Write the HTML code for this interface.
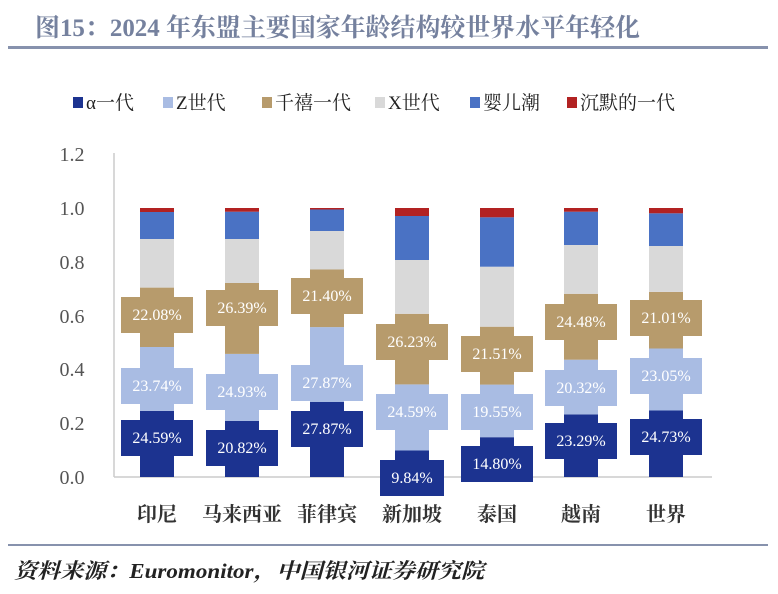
<!DOCTYPE html>
<html><head><meta charset="utf-8"><style>
html,body{margin:0;padding:0;background:#fff;width:778px;height:594px;overflow:hidden}
svg{display:block}
.s{font-family:"Liberation Serif","Noto Serif CJK SC",serif}
</style></head><body>
<svg width="778" height="594" viewBox="0 0 778 594" xmlns="http://www.w3.org/2000/svg" class="s">
<text x="35" y="36" font-size="25" font-weight="bold" fill="#75819e" textLength="605" lengthAdjust="spacingAndGlyphs">图15：2024 年东盟主要国家年龄结构较世界水平年轻化</text>
<rect x="8" y="46" width="760" height="3" fill="#8792ad"/>
<g font-size="19" fill="#222">
<rect x="73" y="97" width="10" height="11" fill="#1c3390"/><text x="86" y="109">α一代</text>
<rect x="163" y="97" width="10" height="11" fill="#a9bce3"/><text x="176" y="109">Z世代</text>
<rect x="262" y="97" width="10" height="11" fill="#b79b6c"/><text x="275" y="109">千禧一代</text>
<rect x="375" y="97" width="10" height="11" fill="#d9d9d9"/><text x="388" y="109">X世代</text>
<rect x="470" y="97" width="10" height="11" fill="#4a72c4"/><text x="483" y="109">婴儿潮</text>
<rect x="567" y="97" width="10" height="11" fill="#b22222"/><text x="580" y="109">沉默的一代</text>
</g>
<g font-size="20" fill="#555" text-anchor="middle">
<text x="72" y="161">1.2</text><text x="72" y="215">1.0</text><text x="72" y="269">0.8</text>
<text x="72" y="323">0.6</text><text x="72" y="376">0.4</text><text x="72" y="430">0.2</text><text x="72" y="484">0.0</text>
</g>
<line x1="114" y1="153" x2="114" y2="477" stroke="#ccc" stroke-width="1.5"/>
<line x1="114" y1="477" x2="712" y2="477" stroke="#ccc" stroke-width="1.5"/>
<g>
<rect x="140" y="410.9" width="34" height="66.1" fill="#1c3390"/><rect x="140" y="347" width="34" height="63.9" fill="#a9bce3"/><rect x="140" y="287.6" width="34" height="59.4" fill="#b79b6c"/><rect x="140" y="239" width="34" height="48.6" fill="#d9d9d9"/><rect x="140" y="212" width="34" height="27" fill="#4a72c4"/><rect x="140" y="208" width="34" height="4" fill="#b22222"/>
<rect x="225" y="421" width="34" height="56" fill="#1c3390"/><rect x="225" y="353.9" width="34" height="67.1" fill="#a9bce3"/><rect x="225" y="283" width="34" height="70.9" fill="#b79b6c"/><rect x="225" y="239" width="34" height="44" fill="#d9d9d9"/><rect x="225" y="211.7" width="34" height="27.3" fill="#4a72c4"/><rect x="225" y="208" width="34" height="3.7" fill="#b22222"/>
<rect x="310" y="402" width="34" height="75" fill="#1c3390"/><rect x="310" y="327.1" width="34" height="74.9" fill="#a9bce3"/><rect x="310" y="269.5" width="34" height="57.6" fill="#b79b6c"/><rect x="310" y="231" width="34" height="38.5" fill="#d9d9d9"/><rect x="310" y="209.5" width="34" height="21.5" fill="#4a72c4"/><rect x="310" y="208" width="34" height="1.5" fill="#b22222"/>
<rect x="395" y="450.5" width="34" height="26.5" fill="#1c3390"/><rect x="395" y="384.4" width="34" height="66.1" fill="#a9bce3"/><rect x="395" y="313.8" width="34" height="70.6" fill="#b79b6c"/><rect x="395" y="260" width="34" height="53.8" fill="#d9d9d9"/><rect x="395" y="216" width="34" height="44" fill="#4a72c4"/><rect x="395" y="208" width="34" height="8" fill="#b22222"/>
<rect x="480" y="437.2" width="34" height="39.8" fill="#1c3390"/><rect x="480" y="384.6" width="34" height="52.6" fill="#a9bce3"/><rect x="480" y="326.7" width="34" height="57.9" fill="#b79b6c"/><rect x="480" y="266.7" width="34" height="60" fill="#d9d9d9"/><rect x="480" y="217.3" width="34" height="49.4" fill="#4a72c4"/><rect x="480" y="208" width="34" height="9.3" fill="#b22222"/>
<rect x="564" y="414.4" width="34" height="62.6" fill="#1c3390"/><rect x="564" y="359.7" width="34" height="54.7" fill="#a9bce3"/><rect x="564" y="293.8" width="34" height="65.9" fill="#b79b6c"/><rect x="564" y="245" width="34" height="48.8" fill="#d9d9d9"/><rect x="564" y="211.7" width="34" height="33.3" fill="#4a72c4"/><rect x="564" y="208" width="34" height="3.7" fill="#b22222"/>
<rect x="649" y="410.5" width="34" height="66.5" fill="#1c3390"/><rect x="649" y="348.5" width="34" height="62" fill="#a9bce3"/><rect x="649" y="291.9" width="34" height="56.6" fill="#b79b6c"/><rect x="649" y="246" width="34" height="45.9" fill="#d9d9d9"/><rect x="649" y="213.3" width="34" height="32.7" fill="#4a72c4"/><rect x="649" y="208" width="34" height="5.3" fill="#b22222"/>
</g>
<g>
<rect x="121" y="420" width="72" height="36" fill="#1c3390"/><rect x="121" y="368" width="72" height="36" fill="#a9bce3"/><rect x="121" y="297" width="72" height="36" fill="#b79b6c"/>
<rect x="206" y="430" width="72" height="36" fill="#1c3390"/><rect x="206" y="374" width="72" height="36" fill="#a9bce3"/><rect x="206" y="290" width="72" height="36" fill="#b79b6c"/>
<rect x="291" y="411" width="72" height="36" fill="#1c3390"/><rect x="291" y="365" width="72" height="36" fill="#a9bce3"/><rect x="291" y="278" width="72" height="36" fill="#b79b6c"/>
<rect x="380" y="460" width="64" height="36" fill="#1c3390"/><rect x="376" y="394" width="72" height="36" fill="#a9bce3"/><rect x="376" y="324" width="72" height="36" fill="#b79b6c"/>
<rect x="461" y="446" width="72" height="36" fill="#1c3390"/><rect x="461" y="394" width="72" height="36" fill="#a9bce3"/><rect x="461" y="336" width="72" height="36" fill="#b79b6c"/>
<rect x="545" y="423" width="72" height="36" fill="#1c3390"/><rect x="545" y="370" width="72" height="36" fill="#a9bce3"/><rect x="545" y="304" width="72" height="36" fill="#b79b6c"/>
<rect x="630" y="419" width="72" height="36" fill="#1c3390"/><rect x="630" y="358" width="72" height="36" fill="#a9bce3"/><rect x="630" y="300" width="72" height="36" fill="#b79b6c"/>
</g>
<g font-size="16" fill="#fff" text-anchor="middle">
<text x="157" y="443">24.59%</text><text x="157" y="391">23.74%</text><text x="157" y="320">22.08%</text>
<text x="242" y="453">20.82%</text><text x="242" y="397">24.93%</text><text x="242" y="313">26.39%</text>
<text x="327" y="434">27.87%</text><text x="327" y="388">27.87%</text><text x="327" y="301">21.40%</text>
<text x="412" y="483">9.84%</text><text x="412" y="417">24.59%</text><text x="412" y="347">26.23%</text>
<text x="497" y="469">14.80%</text><text x="497" y="417">19.55%</text><text x="497" y="359">21.51%</text>
<text x="581" y="446">23.29%</text><text x="581" y="393">20.32%</text><text x="581" y="327">24.48%</text>
<text x="666" y="442">24.73%</text><text x="666" y="381">23.05%</text><text x="666" y="323">21.01%</text>
</g>
<g font-size="20" fill="#333" text-anchor="middle" font-weight="bold">
<text x="157" y="521">印尼</text><text x="242" y="521">马来西亚</text><text x="327" y="521">菲律宾</text>
<text x="412" y="521">新加坡</text><text x="497" y="521">泰国</text><text x="581" y="521">越南</text><text x="666" y="521">世界</text>
</g>
<rect x="8" y="544" width="760" height="2" fill="#8792ad"/>
<text x="14" y="578" font-size="21" font-weight="bold" font-style="italic" fill="#222" textLength="470" lengthAdjust="spacingAndGlyphs">资料来源：Euromonitor，中国银河证券研究院</text>
</svg>
</body></html>
